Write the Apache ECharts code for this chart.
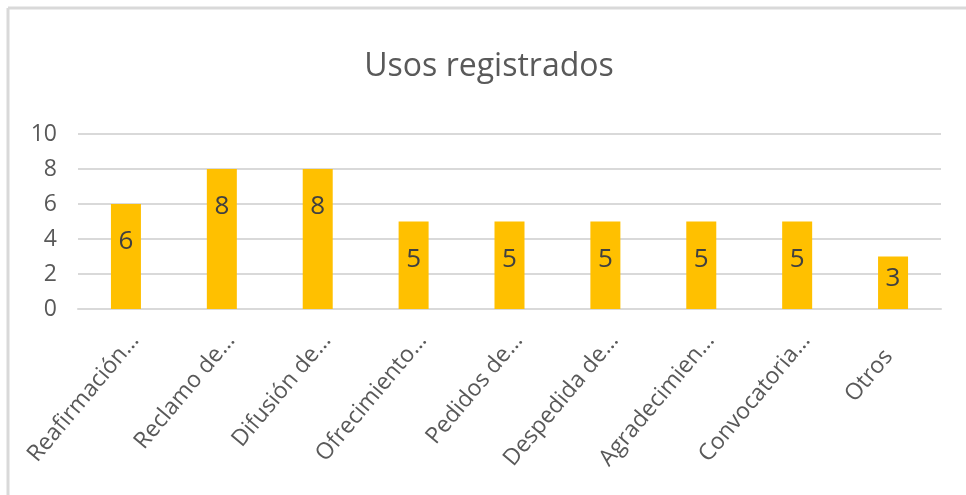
<!DOCTYPE html>
<html>
<head>
<meta charset="utf-8">
<script src="https://cdn.jsdelivr.net/npm/echarts@6/dist/echarts.min.js"></script>
<style>html,body{margin:0;padding:0;background:#fff;}#c{width:966px;height:495px;}</style>
</head>
<body>
<div id="c"></div>
<script>
var titleText = "Usos registrados";
var categories = ["Reafirmación…", "Reclamo de…", "Difusión de…", "Ofrecimiento…", "Pedidos de…", "Despedida de…", "Agradecimien…", "Convocatoria…", "Otros"];
var values = [6, 8, 8, 5, 5, 5, 5, 5, 3];
var yTicks = [0, 2, 4, 6, 8, 10];

var font = "'Open Sans', 'Noto Sans', sans-serif";
var seriesData = values.map(function (v) {
  // short bars: Excel keeps the label nearer the middle of the bar
  return v <= 3 ? {value: v, label: {position: 'inside', offset: [0, -4]}} : {value: v};
});
var categoryData = categories.map(function (c) {
  // short (untruncated) label sits further down its slot, as in Excel
  var truncated = c.indexOf('…') >= 0;
  return {value: c, textStyle: {verticalAlign: 'top', align: 'right',
    padding: truncated ? [6, 7, 0, 0] : [6, 28, 0, 0]}};
});
var chart = echarts.init(document.getElementById('c'), null, {renderer: 'canvas'});
chart.setOption({
  backgroundColor: '#ffffff',
  animation: false,
  title: {
    text: titleText, left: 484, textAlign: 'center', top: 46,
    textStyle: {fontFamily: font, fontSize: 32, fontWeight: 'normal', color: '#595959'}
  },
  graphic: [
    {type: 'line', shape: {x1: 8, y1: 8, x2: 966, y2: 8}, style: {stroke: '#D9D9D9', lineWidth: 3}},
    {type: 'line', shape: {x1: 8, y1: 8, x2: 8, y2: 495}, style: {stroke: '#D9D9D9', lineWidth: 3}}
  ],
  grid: {left: 78, right: 25, top: 134, bottom: 186, containLabel: false},
  xAxis: {
    type: 'category', data: categoryData,
    axisLine: {show: true, lineStyle: {color: '#D9D9D9', width: 2}},
    axisTick: {show: false},
    axisLabel: {rotate: 50, interval: 0, margin: 11, verticalAlign: 'top',
      fontFamily: font, fontSize: 23, color: '#595959'}
  },
  yAxis: {
    type: 'value', min: yTicks[0], max: yTicks[yTicks.length - 1], interval: 2,
    axisLine: {show: false}, axisTick: {show: false},
    splitLine: {lineStyle: {color: '#D9D9D9', width: 2}},
    axisLabel: {margin: 21, fontFamily: font, fontSize: 23, color: '#595959'}
  },
  series: [{
    type: 'bar', data: seriesData, barWidth: 30,
    itemStyle: {color: '#FFC000'},
    label: {show: true, position: 'insideTop', distance: 25, fontFamily: font, fontSize: 26, color: '#404040'}
  }]
});
</script>
</body>
</html>
